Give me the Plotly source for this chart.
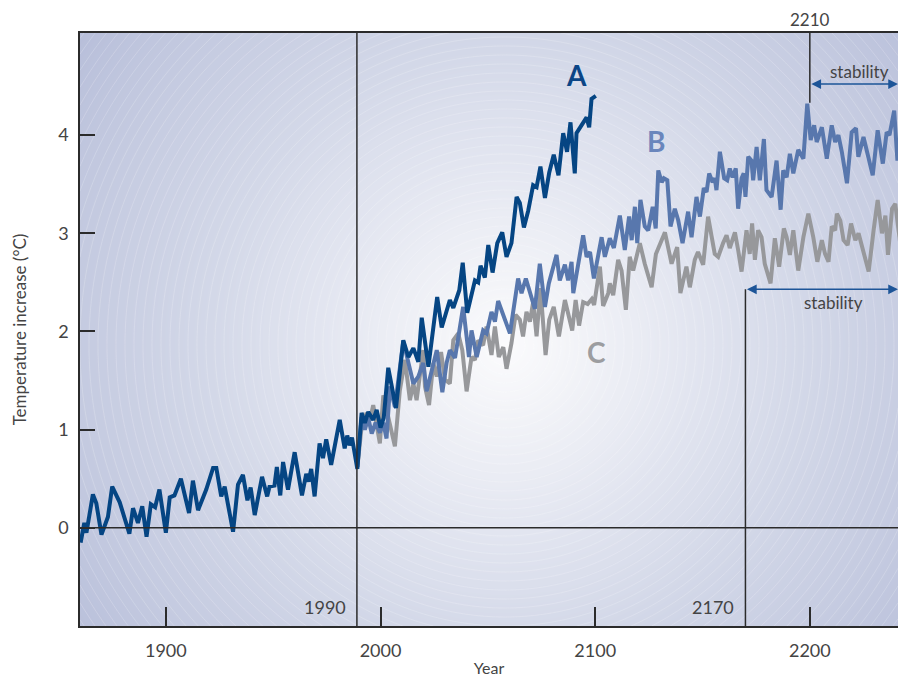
import numpy as np
import plotly.graph_objects as go

# ---------------- data ----------------
a_years = [1860.3, 1862, 1863, 1866, 1867.6, 1870, 1873, 1875, 1878.5, 1883, 1884.7, 1887, 1889, 1891,
           1893, 1895, 1897, 1900, 1901.8, 1904, 1907, 1910.8, 1912.6, 1915, 1918.8, 1922, 1923.5, 1925.8,
           1927.4, 1931.3, 1933.6, 1935.9, 1938, 1939.5, 1941.4, 1944.8, 1947.2, 1948.3, 1950.6, 1951.7,
           1953.3, 1954.6, 1956.9, 1960, 1963.4, 1965.4, 1966.5, 1967.7, 1969.3, 1971.6, 1973.2, 1974.7,
           1977, 1981, 1983.3, 1984.5, 1985.6, 1986.7, 1989.2,
           1991.2, 1992.7, 1994.3, 1996.6, 1998.2, 2000.0, 2001.5, 2003.6, 2005.2, 2007.2, 2010.6, 2013,
           2015.3, 2017.6, 2019.2, 2022.3, 2026.4, 2028.5, 2032.3, 2033.9, 2036.7, 2038.3, 2040.4, 2044,
           2045.5, 2046.6, 2048.6, 2050.2, 2052.2, 2054.4, 2056.7, 2058.7, 2061, 2063.4, 2064.9, 2066.8,
           2068.8, 2071.1, 2072.7, 2074.5, 2076.6, 2078.6, 2080.7, 2082.9, 2085.1, 2086.9, 2088.5, 2090.5,
           2091.3, 2094.4, 2096, 2097.2, 2098.3, 2100.3]
a_temps = [-0.15, 0.05, -0.05, 0.34, 0.25, -0.07, 0.11, 0.42, 0.26, -0.06, 0.20, 0.05, 0.22, -0.09,
           0.24, 0.21, 0.39, -0.05, 0.31, 0.33, 0.50, 0.15, 0.48, 0.18, 0.39, 0.61, 0.61, 0.32,
           0.42, -0.04, 0.44, 0.54, 0.28, 0.41, 0.13, 0.52, 0.32, 0.42, 0.43, 0.62,
           0.33, 0.67, 0.39, 0.77, 0.33, 0.55, 0.47, 0.60, 0.32, 0.86, 0.71, 0.90,
           0.64, 1.10, 0.81, 0.94, 0.84, 0.92, 0.60,
           1.17, 1.07, 1.18, 1.10, 1.20, 1.02, 1.12, 1.63, 1.43, 1.22, 1.91, 1.74,
           1.83, 1.69, 2.14, 1.64, 2.35, 2.04, 2.32, 2.24, 2.42, 2.70, 2.19, 2.52,
           2.50, 2.67, 2.55, 2.88, 2.60, 2.90, 3.01, 2.76, 2.90, 3.37, 3.31, 3.06,
           3.23, 3.49, 3.47, 3.68, 3.36, 3.62, 3.80, 3.59, 4.02, 3.83, 4.13, 3.61,
           4.02, 4.12, 4.18, 4.08, 4.37, 4.40]

b_years = [1989.2, 1991.2, 1992.7, 1994.3, 1995.9, 1997.7, 1999.7, 2001.3, 2002.8, 2004.4, 2006.7, 2010.6,
           2012.9, 2015.3, 2017.6, 2019.9, 2021.5, 2026.2, 2028.8, 2030.8, 2032.3, 2034.7, 2038.5,
           2041.2, 2042.4, 2044.8, 2047.8, 2049.4, 2051.7, 2053.3, 2054.8, 2060.3, 2064.1, 2065.7,
           2067.7, 2071.9, 2074.2, 2076.6, 2078.4, 2082, 2083.5, 2085.9, 2087.4, 2089, 2089.8, 2094.4,
           2096, 2097.6, 2099.4, 2103, 2104.5, 2106.8, 2108.7, 2111.5, 2113.8, 2115.8, 2117, 2118.5,
           2119.6, 2121.1, 2123.1, 2124.7, 2126.8, 2128.2, 2129.4, 2131, 2132, 2133.6, 2135.1, 2137.1,
           2138.7, 2140.7, 2143.3, 2144.9, 2147.2, 2148.8, 2150.6, 2151.9, 2153.1, 2154.7, 2155.7,
           2156.5, 2158.1, 2160.1, 2161.5, 2162.7, 2164, 2165.5, 2166.6, 2168.2, 2169.2, 2170,
           2171.3, 2172.8, 2173.6, 2175.2, 2176.7, 2178.6, 2179.8, 2182.2, 2184.5, 2186.4, 2187.6,
           2189.2, 2190.7, 2192.3, 2194.6, 2197, 2198.8, 2200.4, 2202, 2203.2, 2205.6, 2207.9, 2210.2,
           2211.8, 2213.3, 2214.9, 2217.3, 2219.5, 2221.5, 2222.6, 2225, 2226.8, 2229.3, 2231.6, 2234,
           2235.8, 2237.1, 2239.3, 2240.8, 2242.9, 2244.4]
b_temps = [0.62, 1.13, 1.00, 1.12, 0.96, 1.07, 0.97, 1.07, 0.91, 1.44, 1.23, 1.90,
           1.69, 1.47, 1.54, 1.68, 1.39, 1.81, 1.38, 1.68, 1.81, 1.73, 2.25,
           1.74, 2.01, 1.74, 2.01, 1.98, 2.20, 2.10, 2.31, 1.98, 2.54, 2.39,
           2.54, 2.23, 2.69, 2.25, 2.49, 2.78, 2.52, 2.68, 2.52, 2.71, 2.39, 2.98,
           2.76, 2.81, 2.54, 2.96, 2.76, 2.95, 2.85, 3.18, 2.83, 3.17, 2.93, 3.27,
           2.90, 3.34, 3.07, 3.03, 3.27, 3.05, 3.64, 3.52, 3.56, 3.54, 3.07, 3.25,
           3.13, 2.90, 3.22, 2.96, 3.37, 3.17, 3.46, 3.42, 3.61, 3.52, 3.56,
           3.44, 3.83, 3.56, 3.54, 3.66, 3.57, 3.66, 3.25, 3.56, 3.61, 3.37,
           3.78, 3.74, 3.54, 3.88, 3.54, 3.96, 3.44, 3.37, 3.74, 3.24, 3.64,
           3.57, 3.81, 3.61, 3.85, 3.76, 4.32, 3.95, 4.10, 3.93, 4.08, 3.76, 4.10,
           3.93, 4.00, 3.83, 3.51, 4.03, 4.07, 3.78, 3.98, 3.83, 3.59, 4.05, 3.71,
           4.03, 4.00, 4.25, 3.74, 4.05, 4.35]

c_years = [1989.2, 1991.2, 1993.5, 1995.1, 1996.6, 1998.2, 1999.7, 2001.3, 2003.6, 2006.7, 2009, 2011.4,
           2013.7, 2015.3, 2016.8, 2018.4, 2019.9, 2020.7, 2022.6, 2024.6, 2026.2, 2028.2, 2030,
           2032.3, 2033.9, 2036.2, 2038.1, 2040.1, 2042.4, 2044, 2045.5, 2047.8, 2049.4, 2051.7,
           2053.3, 2055.1, 2057.2, 2058.7, 2061, 2062.9, 2064.9, 2066.4, 2068, 2069.6, 2071.1, 2072.7,
           2074.5, 2076.9, 2078.6, 2080.7, 2083.1, 2085.9, 2089.3, 2090.9, 2092.5, 2094.4, 2096.5,
           2098.4, 2099.5, 2102.2, 2103.7, 2106.1, 2106.8, 2108.4, 2110.7, 2112.3, 2114.3, 2116.1,
           2117.7, 2120.8, 2123.1, 2126.3, 2128.3, 2132.5, 2135.6, 2138.2, 2139.7, 2142.5, 2144.1,
           2146.4, 2147.9, 2150.3, 2152.6, 2155.7, 2157.3, 2159.6, 2161.2, 2162.7, 2165.1, 2166.6,
           2168.2, 2170.5, 2172, 2173.1, 2174.4, 2175.9, 2177.5, 2179, 2181.7, 2183.7, 2185.7, 2187.9,
           2189.2, 2190.7, 2192.3, 2194.6, 2197, 2199.3, 2201.6, 2203.5, 2205.6, 2207.1, 2208.7,
           2210.2, 2211.8, 2212.6, 2214.2, 2215.7, 2217.6, 2219.2, 2221.2, 2222.7, 2225, 2227.4,
           2229.7, 2231.6, 2233.6, 2235.2, 2236.4, 2238.3, 2239.8, 2240.8, 2242.1, 2244.4]
c_temps = [0.62, 1.03, 1.17, 1.10, 1.25, 1.07, 0.86, 1.35, 1.13, 0.83, 1.40, 1.71,
           1.30, 1.47, 1.30, 1.57, 1.81, 1.44, 1.25, 1.68, 1.54, 1.79, 1.51,
           1.47, 1.91, 1.98, 1.81, 1.39, 1.74, 1.71, 1.91, 1.86, 2.05, 1.76,
           2.05, 1.74, 1.84, 1.62, 1.88, 2.17, 2.12, 1.95, 2.20, 2.10, 2.30, 1.95,
           2.44, 1.76, 2.12, 2.25, 1.95, 2.32, 2.01, 2.32, 2.06, 2.30, 2.28,
           2.33, 2.27, 2.66, 2.26, 2.39, 2.49, 2.37, 2.73, 2.62, 2.22, 2.76,
           2.62, 2.90, 2.69, 2.45, 2.79, 3.01, 2.69, 2.86, 2.39, 2.66, 2.45,
           2.73, 2.81, 2.68, 3.17, 2.79, 2.76, 2.90, 2.98, 2.85, 3.01, 2.83,
           2.61, 3.03, 2.79, 3.10, 2.73, 3.03, 2.96, 2.69, 2.49, 2.95, 2.66, 3.05,
           2.96, 2.78, 3.03, 2.62, 2.96, 3.20, 2.96, 2.71, 2.93, 2.79, 2.71,
           3.07, 3.03, 3.20, 3.13, 2.93, 2.88, 3.10, 2.93, 3.00, 2.79, 2.61,
           3.03, 3.34, 3.00, 3.18, 2.78, 3.25, 3.30, 3.13, 2.90, 3.13]

x_ticks = [1900, 2000, 2100, 2200]
y_ticks = [0, 1, 2, 3, 4]

# ---------------- layout constants ----------------
PX_PER_YEAR = 826 / 384.8
X0 = 1860.0
X1 = X0 + 818 / PX_PER_YEAR          # visible right edge of the plot
Y0, Y1 = -1.0, 5.04
FONT = "Lato, 'Open Sans', sans-serif"
TXT = "#444444"
LINE = "#2b2b2b"

fig = go.Figure()

# radial background glow (decoration only)
gx = np.linspace(X0, X1, 200)
gy = np.linspace(Y0, Y1, 160)
GX, GY = np.meshgrid(gx, gy)
px = 80 + (GX - X0) * PX_PER_YEAR
py = 626 - (GY - Y0) * (593 / (Y1 - Y0))
dist = np.sqrt((px - 505) ** 2 + (py - 345) ** 2)
fig.add_trace(go.Heatmap(
    x=gx, y=gy, z=dist, zmin=0, zmax=540, zsmooth="best", showscale=False, hoverinfo="skip",
    colorscale=[[0, "#fbfbfd"], [0.12, "#f3f4f8"], [0.35, "#e2e5f0"], [0.55, "#d3d8e8"],
                [0.8, "#c4cae0"], [1, "#b6bdd9"]],
))
fig.add_trace(go.Contour(
    x=gx, y=gy, z=dist, showscale=False, hoverinfo="skip",
    contours=dict(coloring="none", start=20, end=600, size=9),
    line=dict(color="rgba(255,255,255,0.28)", width=0.7, smoothing=1.3),
))

fig.add_trace(go.Scatter(x=c_years, y=c_temps, mode="lines", name="C",
                         line=dict(color="#97989b", width=4)))
fig.add_trace(go.Scatter(x=b_years, y=b_temps, mode="lines", name="B",
                         line=dict(color="#5877ad", width=4)))
fig.add_trace(go.Scatter(x=a_years, y=a_temps, mode="lines", name="A",
                         line=dict(color="#054583", width=4)))

shapes = [
    dict(type="line", xref="paper", x0=0, x1=1, yref="y", y0=0, y1=0, line=dict(color=LINE, width=1.5)),
    dict(type="line", xref="x", x0=1989, x1=1989, yref="paper", y0=0, y1=1, line=dict(color=LINE, width=1.5)),
    dict(type="line", xref="x", x0=2170, x1=2170, yref="y", y0=Y0, y1=2.43, line=dict(color=LINE, width=1.5)),
    dict(type="line", xref="x", x0=2200, x1=2200, yref="y", y0=4.33, y1=Y1, line=dict(color=LINE, width=1.5)),
]

ARROW = "#1d5598"
annotations = [
    dict(x=2091.5, y=4.61, text="<b>A</b>", showarrow=False, font=dict(family=FONT, size=28, color="#0b4586")),
    dict(x=2128.3, y=3.94, text="<b>B</b>", showarrow=False, font=dict(family=FONT, size=28, color="#6a86bc")),
    dict(x=2100.8, y=1.79, text="<b>C</b>", showarrow=False, font=dict(family=FONT, size=28, color="#9c9da0")),
    dict(x=1989, y=-0.81, text="1990", showarrow=False, xanchor="right", xshift=-9,
         font=dict(family=FONT, size=18, color=TXT)),
    dict(x=2170, y=-0.81, text="2170", showarrow=False, xanchor="right", xshift=-9,
         font=dict(family=FONT, size=18, color=TXT)),
    dict(x=2200, y=1, yref="paper", text="2210", showarrow=False, yanchor="bottom", yshift=2, borderpad=0,
         font=dict(family=FONT, size=17, color=TXT)),
    dict(x=2223.3, y=4.65, text="stability", showarrow=False, font=dict(family=FONT, size=17, color=TXT)),
    dict(x=2210.8, y=2.29, text="stability", showarrow=False, font=dict(family=FONT, size=17, color=TXT)),
    dict(x=X1, y=4.52, ax=2200, ay=4.52, axref="x", ayref="y", text="", showarrow=True,
         arrowside="end+start", arrowhead=2, arrowsize=1.3, arrowwidth=1.5, arrowcolor=ARROW),
    dict(x=X1, y=2.43, ax=2170, ay=2.43, axref="x", ayref="y", text="", showarrow=True,
         arrowside="end+start", arrowhead=2, arrowsize=1.3, arrowwidth=1.5, arrowcolor=ARROW),
]

# the page adds an 8 px body margin, so the figure is sized/offset to land on the same pixels
fig.update_layout(
    width=890, height=669,
    margin=dict(l=72, r=0, t=25, b=51, autoexpand=False),
    paper_bgcolor="white", plot_bgcolor="#d5d9ea",
    showlegend=False,
    font=dict(family=FONT, size=18, color=TXT),
    shapes=shapes, annotations=annotations,
    xaxis=dict(range=[X0, X1], tickvals=x_ticks, ticks="inside", ticklen=19, tickwidth=1.5,
               tickcolor=LINE, showline=True, linecolor=LINE, linewidth=1.5, mirror=True,
               showgrid=False, zeroline=False, ticklabelstandoff=8, automargin=False,
               tickfont=dict(family=FONT, size=18, color=TXT),
               title=dict(text="Year", standoff=7, font=dict(family=FONT, size=16, color=TXT))),
    yaxis=dict(range=[Y0, Y1], tickvals=y_ticks, ticks="inside", ticklen=15, tickwidth=1.5,
               tickcolor=LINE, showline=True, linecolor=LINE, linewidth=1.5, mirror=False,
               showgrid=False, zeroline=False, ticklabelstandoff=6, automargin=False,
               tickfont=dict(family=FONT, size=18, color=TXT),
               title=dict(text="Temperature increase (°C)", standoff=27,
                          font=dict(family=FONT, size=17, color=TXT))),
)

fig.write_html("out.html")
